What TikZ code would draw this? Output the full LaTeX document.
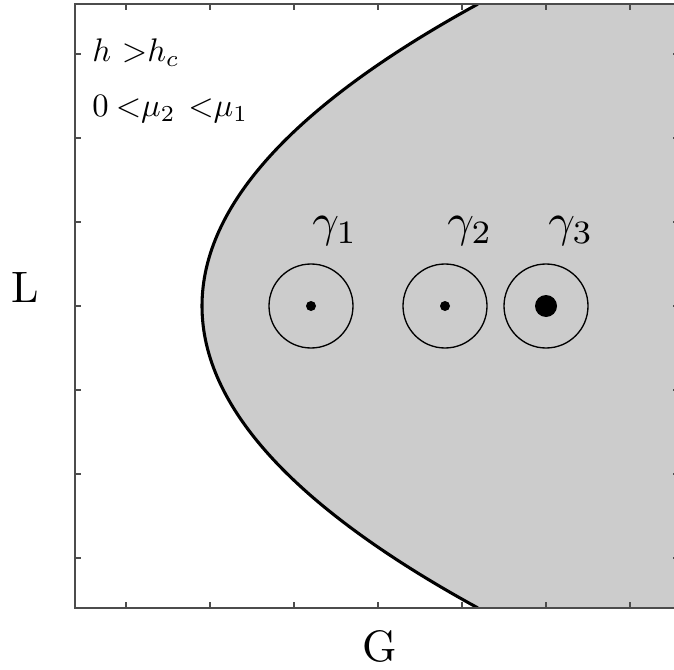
\documentclass[tikz,border=0pt]{standalone}
\usepackage{fontspec}
\begin{document}
\begin{tikzpicture}[x=0.75pt,y=-0.75pt,
  axisline/.style={draw=black!70, line width=1.3pt},
  tickmark/.style={draw=black!70, line width=1pt},
  bound/.style={line width=2.3pt},
  orbit/.style={circle, draw, line width=1pt, minimum size=63pt, inner sep=0pt},
  smalldot/.style={circle, fill, inner sep=0pt, minimum size=7.5pt},
  bigdot/.style={circle, fill, inner sep=0pt, minimum size=16.5pt},
  biglabel/.style={inner sep=0pt, anchor=base},
  smalltext/.style={inner sep=0pt, anchor=base west}]
\useasboundingbox (0,0) rectangle (674,670);
\begin{scope}
  \clip (75,4) rectangle (674,608);
  \fill[black!20] (478,4) .. controls (110,205.33) and (110,406.67) .. (478,608)
    -- (690,608) -- (690,4) -- cycle;
  \draw[bound] (478,4) .. controls (110,205.33) and (110,406.67) .. (478,608);
\end{scope}
\draw[axisline] (75,4) rectangle (679,608);
\foreach \x in {126,210,...,630} {
  \draw[tickmark] (\x,608) -- ++(0,-6);
  \draw[tickmark] (\x,4) -- ++(0,6);
}
\foreach \y in {54,138,...,558} {
  \draw[tickmark] (75,\y) -- ++(6,0);
  \draw[tickmark] (679,\y) -- ++(-6,0);
}
\node[orbit] (c1) at (311,306) {};
\node[orbit] (c2) at (445,306) {};
\node[orbit] (c3) at (546,306) {};
\node[smalldot] (d1) at (c1.center) {};
\node[smalldot] (d2) at (c2.center) {};
\node[bigdot] (d3) at (c3.center) {};
\node[biglabel] (g1) at (335,237) {\scalebox{3.5}{$\gamma_1$}};
\node[biglabel] (g2) at (470,237) {\scalebox{3.5}{$\gamma_2$}};
\node[biglabel] (g3) at (571,237) {\scalebox{3.5}{$\gamma_3$}};
\node[biglabel] (ylab) at (25,302) {\scalebox{3.3}{L}};
\node[biglabel] (xlab) at (380,661) {\scalebox{3.3}{G}};
\node[smalltext] (t1) at (92,62) {\scalebox{2.45}{$h\mskip6mu{>}h_c$}};
\node[smalltext] (t2) at (92,117) {\scalebox{2.45}{$0\mskip4mu{<}\mu_2\mskip7mu{<}\mu_1$}};
\end{tikzpicture}
\end{document}
